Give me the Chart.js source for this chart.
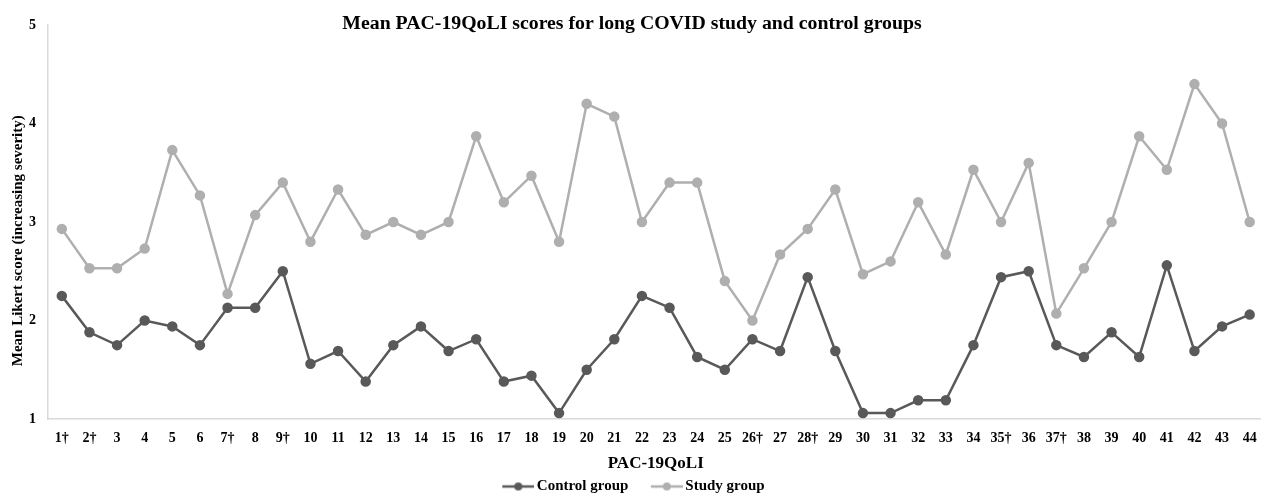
<!DOCTYPE html>
<html>
<head>
<meta charset="utf-8">
<script src="https://cdn.jsdelivr.net/npm/chart.js@4.4.0/dist/chart.umd.min.js"></script>
<style>
    html, body { margin: 0; padding: 0; background: #fff; overflow: hidden; }
    #wrap { width: 1270px; height: 504px; position: relative; }
</style>
</head>
<body>
<div id="wrap"><canvas id="chart"></canvas></div>
<script>
// PAC-19QoLI items (dagger marks flagged items)
const items = [
    '1†', '2†', '3', '4', '5', '6', '7†', '8', '9†', '10',
    '11', '12', '13', '14', '15', '16', '17', '18', '19', '20',
    '21', '22', '23', '24', '25', '26†', '27', '28†', '29', '30',
    '31', '32', '33', '34', '35†', '36', '37†', '38', '39', '40',
    '41', '42', '43', '44'
];

const controlScores = [
    2.25, 1.88, 1.75, 2.00, 1.94, 1.75, 2.13, 2.13, 2.50, 1.56,
    1.69, 1.38, 1.75, 1.94, 1.69, 1.81, 1.38, 1.44, 1.06, 1.50,
    1.81, 2.25, 2.13, 1.63, 1.50, 1.81, 1.69, 2.44, 1.69, 1.06,
    1.06, 1.19, 1.19, 1.75, 2.44, 2.50, 1.75, 1.63, 1.88, 1.63,
    2.56, 1.69, 1.94, 2.06
];

const studyScores = [
    2.93, 2.53, 2.53, 2.73, 3.73, 3.27, 2.27, 3.07, 3.40, 2.80,
    3.33, 2.87, 3.00, 2.87, 3.00, 3.87, 3.20, 3.47, 2.80, 4.20,
    4.07, 3.00, 3.40, 3.40, 2.40, 2.00, 2.67, 2.93, 3.33, 2.47,
    2.60, 3.20, 2.67, 3.53, 3.00, 3.60, 2.07, 2.53, 3.00, 3.87,
    3.53, 4.40, 4.00, 3.00
];

const yTicks = [1, 2, 3, 4, 5];

const serif = "'Liberation Serif', 'Times New Roman', serif";
const controlColor = '#595959';
const studyColor = '#afafaf';

// legend marker: short line with a dot, it sticks out a bit to the right of the box
function makeMarker(color) {
    const c = document.createElement('canvas');
    c.width = 37;
    c.height = 10;
    const g = c.getContext('2d');
    g.strokeStyle = color;
    g.lineWidth = 2.5;
    g.beginPath();
    g.moveTo(5, 5);
    g.lineTo(37, 5);
    g.stroke();
    g.fillStyle = color;
    g.beginPath();
    g.arc(21, 5, 4, 0, Math.PI * 2);
    g.fill();
    return c;
}

const titlePlugin = {
    id: 'overlayTitle',
    afterDraw(chart) {
        const ctx = chart.ctx;
        ctx.save();
        ctx.font = "bold 19.8px " + serif;
        ctx.fillStyle = '#000';
        ctx.textAlign = 'center';
        ctx.textBaseline = 'middle';
        ctx.fillText('Mean PAC-19QoLI scores for long COVID study and control groups', 632, 24);
        ctx.restore();
    }
};

const ctx = document.getElementById('chart').getContext('2d');
new Chart(ctx, {
    type: 'line',
    data: {
        labels: items,
        datasets: [{
            label: 'Control group',
            data: controlScores,
            borderColor: controlColor,
            backgroundColor: controlColor,
            borderWidth: 2.5,
            pointRadius: 4,
            pointHoverRadius: 4,
            pointStyle: 'circle',
            tension: 0,
            fill: false
        }, {
            label: 'Study group',
            data: studyScores,
            borderColor: studyColor,
            backgroundColor: studyColor,
            borderWidth: 2.5,
            pointRadius: 4,
            pointHoverRadius: 4,
            pointStyle: 'circle',
            tension: 0,
            fill: false
        }]
    },
    options: {
        responsive: true,
        maintainAspectRatio: false,
        animation: false,
        layout: { padding: { top: 25, right: 3, left: 0, bottom: 0 } },
        plugins: {
            title: { display: false },
            tooltip: { enabled: false },
            legend: {
                position: 'bottom',
                labels: {
                    color: '#000',
                    font: { family: serif, size: 15, weight: 'bold' },
                    usePointStyle: true,
                    pointStyleWidth: 27,
                    padding: 0,
                    generateLabels(chart) {
                        const n = chart.data.datasets.length;
                        return chart.data.datasets.map((ds, i) => ({
                            // trailing spaces keep the gap between the two entries
                            text: i < n - 1 ? ds.label + '      ' : ds.label,
                            fillStyle: ds.borderColor,
                            strokeStyle: ds.borderColor,
                            pointStyle: makeMarker(ds.borderColor),
                            fontColor: '#000',
                            lineWidth: 0,
                            hidden: false,
                            datasetIndex: i
                        }));
                    }
                }
            }
        },
        scales: {
            x: {
                offset: true,
                afterFit(scale) {
                    scale.height = 60;
                },
                grid: { display: false, drawTicks: false },
                border: { display: true, color: '#d9d9d9', width: 1.5 },
                ticks: {
                    color: '#000',
                    font: { family: serif, size: 14, weight: 'bold' },
                    maxRotation: 0,
                    autoSkip: false,
                    padding: 11
                },
                title: {
                    display: true,
                    text: 'PAC-19QoLI',
                    color: '#000',
                    font: { family: serif, size: 17, weight: 'bold' },
                    padding: { top: 4, bottom: 5 }
                }
            },
            y: {
                min: 1,
                max: 5,
                afterBuildTicks(scale) {
                    scale.ticks = yTicks.map(v => ({ value: v }));
                },
                afterFit(scale) {
                    scale.width = 48;
                },
                grid: { display: false, drawTicks: false },
                border: { display: true, color: '#d9d9d9', width: 1.5 },
                ticks: {
                    color: '#000',
                    font: { family: serif, size: 14, weight: 'bold' },
                    padding: 12
                },
                title: {
                    display: true,
                    text: 'Mean Likert score (increasing severity)          ',
                    color: '#000',
                    font: { family: serif, size: 15, weight: 'bold' },
                    padding: { top: 9, bottom: 0 }
                }
            }
        }
    },
    plugins: [titlePlugin]
});
</script>
</body>
</html>
